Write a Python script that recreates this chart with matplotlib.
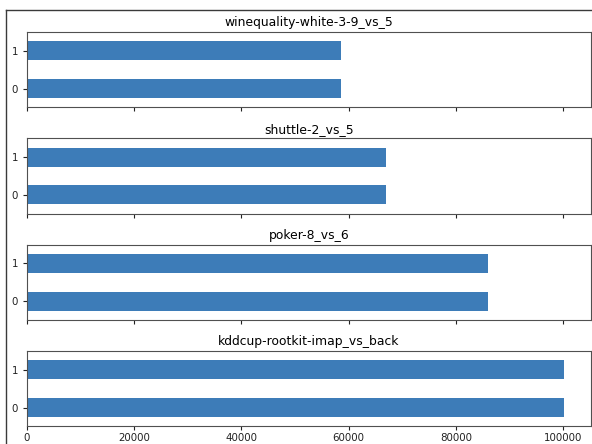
import matplotlib.pyplot as plt
from matplotlib.lines import Line2D

# majority-class counts per dataset, one bar per class index
datasets = [
    "winequality-white-3-9_vs_5",
    "shuttle-2_vs_5",
    "poker-8_vs_6",
    "kddcup-rootkit-imap_vs_back",
]
class_labels = [0, 1]
winequality = [58500, 58500]
shuttle = [66900, 66900]
poker = [86000, 86000]
kddcup = [100100, 100100]
xticks = [0, 20000, 40000, 60000, 80000, 100000]

series = [winequality, shuttle, poker, kddcup]

plt.rcParams["font.size"] = 7.4
W, H = 592, 444
fig = plt.figure(figsize=(W / 100, H / 100), dpi=100)

bar_color = "#3d7cb8"
spine_color = "#505050"

left, right = 27 / W, 590.5 / W
top0, step, height = 32, 106.3, 75.5

axes = []
for i, (name, vals) in enumerate(zip(datasets, series)):
    top = top0 + i * step
    ax = fig.add_axes([left, 1 - (top + height) / H, right - left, height / H],
                      sharex=axes[0] if axes else None)
    ax.barh(class_labels, vals, height=0.5, color=bar_color)
    ax.set_ylim(-0.5, 1.5)
    ax.set_yticks(class_labels)
    ax.set_title(name, pad=4)
    for s in ax.spines.values():
        s.set_color(spine_color)
    ax.tick_params(colors="#222222", length=3)
    if i < len(datasets) - 1:
        ax.tick_params(labelbottom=False)
    axes.append(ax)

axes[-1].set_xticks(xticks)
axes[-1].set_xlim(0, max(kddcup) * 1.05)
axes[-1].tick_params(axis="x", pad=1.5)

# border line around the figure
fig.add_artist(Line2D([6 / W, 6 / W], [0, 1 - 10 / H], transform=fig.transFigure,
                      color="#3a3a3a", lw=1))
fig.add_artist(Line2D([6 / W, 1], [1 - 10 / H, 1 - 10 / H], transform=fig.transFigure,
                      color="#3a3a3a", lw=1))

fig.savefig("out.png", dpi=100)
